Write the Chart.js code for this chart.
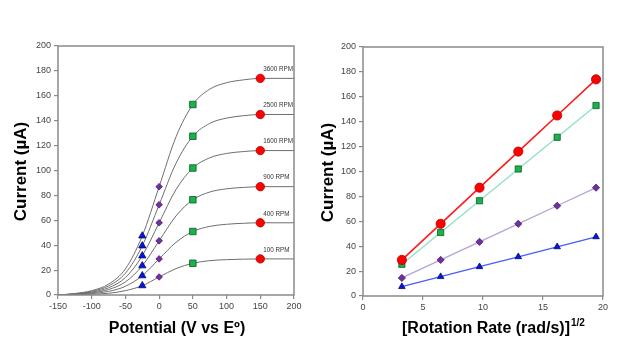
<!DOCTYPE html>
<html>
<head>
<meta charset="utf-8">
<script src="https://cdn.jsdelivr.net/npm/chart.js@4/dist/chart.umd.min.js"></script>
<style>
  html, body { margin: 0; padding: 0; background: #ffffff; }
  #wrap { position: relative; width: 640px; height: 360px; overflow: hidden; }
  canvas { position: absolute; top: 0; }
  #c1 { left: 0; }
  #c2 { left: 320px; }
</style>
</head>
<body>
<div id="wrap">
  <canvas id="c1" width="320" height="360"></canvas>
  <canvas id="c2" width="320" height="360"></canvas>
</div>
<script>
// ---------- data ----------
const rpmLabels = ["100 RPM", "400 RPM", "900 RPM", "1600 RPM", "2500 RPM", "3600 RPM"];
const potentialX = [-150, -125, -100, -75, -50, -25, 0, 25, 50, 75, 100, 125, 150, 175, 200];
const curve100  = [0, 0.2, 0.6, 1.4, 3.5, 7.5, 14.5, 21.2, 25.5, 27.6, 28.4, 28.8, 29, 29, 29];
const curve400  = [0, 0.4, 1.2, 2.9, 7.0, 15.5, 29, 42.3, 51, 55.1, 56.8, 57.6, 58, 58, 58];
const curve900  = [0, 0.6, 1.7, 4.4, 10.5, 23.5, 43.5, 63.5, 76.5, 82.7, 85.3, 86.4, 87, 87, 87];
const curve1600 = [0, 0.8, 2.3, 5.8, 14.0, 31.5, 58, 84.7, 102, 110.2, 113.7, 115.2, 116, 116, 116];
const curve2500 = [0, 1.0, 2.9, 7.3, 17.5, 39.5, 72.5, 105.8, 127.5, 137.8, 142.1, 144, 145, 145, 145];
const curve3600 = [0, 1.2, 3.5, 8.7, 21.0, 47.5, 87, 127, 153, 165.3, 170.5, 172.8, 174, 174, 174];
const curves = [curve100, curve400, curve900, curve1600, curve2500, curve3600];

// marker potentials on the left chart
const triPotential = -25, diaPotential = 0, sqPotential = 50, circPotential = 150;
// marker currents (per rotation rate, 100 -> 3600 RPM)
const triCurrent  = [7.5, 15.5, 23.5, 31.5, 39.5, 47.5];
const diaCurrent  = [14.5, 29, 43.5, 58, 72.5, 87];
const sqCurrent   = [25.5, 51, 76.5, 102, 127.5, 153];
const circCurrent = [29, 58, 87, 116, 145, 174];
// square root of rotation rate (rad/s)^1/2
const sqrtRate = [3.24, 6.47, 9.71, 12.94, 16.18, 19.42];

const leftTicksY = { min: 0, max: 200, step: 20 };
const leftTicksX = { min: -150, max: 200, step: 25, labelStep: 50 };
const rightTicksX = { min: 0, max: 20, step: 5 };

// ---------- helpers ----------
const FONT = '"Liberation Sans", Arial, sans-serif';
const GREY = '#8a8a8a';
function pts(xs, ys) { return ys.map((y, i) => ({ x: Array.isArray(xs) ? xs[i] : xs, y })); }

const boxPlugin = {
  id: 'box',
  afterDatasetsDraw(chart) {
    const a = chart.chartArea, ctx = chart.ctx;
    ctx.save();
    ctx.strokeStyle = GREY; ctx.lineWidth = 1.5;
    ctx.strokeRect(a.left, a.top, a.right - a.left, a.bottom - a.top);
    ctx.restore();
  }
};

function titlesPlugin(yTitleX, xTitle, sup) {
  return {
    id: 'titles',
    afterDraw(chart) {
      const a = chart.chartArea, ctx = chart.ctx;
      ctx.save();
      ctx.fillStyle = '#000';
      ctx.font = 'bold 17px ' + FONT;
      ctx.textAlign = 'center'; ctx.textBaseline = 'middle';
      ctx.translate(yTitleX, (a.top + a.bottom) / 2 + 1);
      ctx.rotate(-Math.PI / 2);
      ctx.fillText('Current (µA)', 0, 0);
      ctx.restore();
      ctx.save();
      ctx.fillStyle = '#000';
      ctx.font = 'bold 16px ' + FONT;
      ctx.textBaseline = 'middle';
      const cx = (a.left + a.right) / 2 + (sup ? 3 : 1);
      const w = ctx.measureText(xTitle).width;
      ctx.textAlign = 'left';
      ctx.fillText(xTitle, cx - w / 2, 329);
      if (sup) {
        ctx.font = 'bold 10px ' + FONT;
        ctx.fillText(sup, cx + w / 2 + 1, 323);
      }
      ctx.restore();
    }
  };
}

const rpmPlugin = {
  id: 'rpm',
  afterDatasetsDraw(chart) {
    const xs = chart.scales.x, ys = chart.scales.y, ctx = chart.ctx;
    ctx.save();
    ctx.fillStyle = '#333';
    ctx.font = '6.3px ' + FONT;
    ctx.textAlign = 'left'; ctx.textBaseline = 'middle';
    rpmLabels.forEach((t, i) => {
      ctx.fillText(t, xs.getPixelForValue(circPotential) + 3, ys.getPixelForValue(circCurrent[i]) - 9);
    });
    ctx.restore();
  }
};

function yAxis(width) {
  return {
    type: 'linear', min: leftTicksY.min, max: leftTicksY.max,
    afterFit: s => { s.width = width; },
    ticks: { stepSize: leftTicksY.step, color: '#444', font: { size: 9, family: FONT }, padding: 3 },
    grid: { drawOnChartArea: false, drawTicks: true, tickLength: 4, color: GREY, lineWidth: 1.2 },
    border: { display: false }
  };
}

// ---------- left chart ----------
const curveSets = curves.map(c => ({
  data: pts(potentialX, c), showLine: true, borderColor: '#6e6e6e', borderWidth: 1,
  pointRadius: 0, cubicInterpolationMode: 'monotone', fill: false, order: 2
}));
const markerStyle = {
  tri:  { pointStyle: 'triangle', pointRadius: 4.2, backgroundColor: '#0a14e0', borderColor: '#000a70', pointBorderWidth: 0.8 },
  dia:  { pointStyle: 'rectRot', pointRadius: 3.3, backgroundColor: '#7030a0', borderColor: '#4a1a70', pointBorderWidth: 0.8 },
  sq:   { pointStyle: 'rect', pointRadius: 4.6, backgroundColor: '#19b24b', borderColor: '#0b5a25', pointBorderWidth: 0.8 },
  circ: { pointStyle: 'circle', pointRadius: 4.2, backgroundColor: '#ff0000', borderColor: '#b00000', pointBorderWidth: 0.8 }
};
function markerSet(data, st, extra) {
  return Object.assign({ data, showLine: false, order: 1,
    pointBackgroundColor: st.backgroundColor, pointBorderColor: st.borderColor,
    pointStyle: st.pointStyle, pointRadius: st.pointRadius, pointBorderWidth: st.pointBorderWidth }, extra || {});
}

new Chart(document.getElementById('c1'), {
  type: 'scatter',
  data: { datasets: curveSets.concat([
    markerSet(pts(triPotential, triCurrent), markerStyle.tri),
    markerSet(pts(diaPotential, diaCurrent), markerStyle.dia),
    markerSet(pts(sqPotential, sqCurrent), markerStyle.sq),
    markerSet(pts(circPotential, circCurrent), markerStyle.circ)
  ]) },
  options: {
    responsive: false, animation: false, devicePixelRatio: 1,
    layout: { padding: { left: 0, top: 46, right: 26, bottom: 0 } },
    plugins: { legend: { display: false }, tooltip: { enabled: false } },
    scales: {
      x: {
        type: 'linear', min: leftTicksX.min, max: leftTicksX.max,
        afterFit: s => { s.height = 65; },
        ticks: { stepSize: leftTicksX.step, color: '#444', font: { size: 9, family: FONT }, padding: 2, maxRotation: 0,
          callback: v => (v % leftTicksX.labelStep === 0 ? String(v) : '') },
        grid: { drawOnChartArea: false, drawTicks: true, tickLength: 4, color: GREY, lineWidth: 1.2 },
        border: { display: false }
      },
      y: yAxis(58)
    }
  },
  plugins: [boxPlugin, rpmPlugin, titlesPlugin(21, 'Potential (V vs Eº)', null)]
});

// ---------- right chart ----------
new Chart(document.getElementById('c2'), {
  type: 'scatter',
  data: { datasets: [
    markerSet(pts(sqrtRate, triCurrent), Object.assign({}, markerStyle.tri, { pointRadius: 3.8 }), { showLine: true, borderColor: '#4a5cff', borderWidth: 1.3, order: 4 }),
    markerSet(pts(sqrtRate, diaCurrent), Object.assign({}, markerStyle.dia, { pointRadius: 3.6 }), { showLine: true, borderColor: '#b7a3d6', borderWidth: 1.3, order: 3 }),
    markerSet(pts(sqrtRate, sqCurrent), Object.assign({}, markerStyle.sq, { pointRadius: 4.4 }), { showLine: true, borderColor: '#8fe0c4', borderWidth: 1.3, order: 2 }),
    markerSet(pts(sqrtRate, circCurrent), Object.assign({}, markerStyle.circ, { pointRadius: 4.6 }), { showLine: true, borderColor: '#ff1a1a', borderWidth: 1.6, order: 1 })
  ] },
  options: {
    responsive: false, animation: false, devicePixelRatio: 1,
    layout: { padding: { left: 0, top: 47, right: 37, bottom: 0 } },
    plugins: { legend: { display: false }, tooltip: { enabled: false } },
    scales: {
      x: {
        type: 'linear', min: rightTicksX.min, max: rightTicksX.max,
        afterFit: s => { s.height = 64; },
        ticks: { stepSize: rightTicksX.step, color: '#444', font: { size: 9, family: FONT }, padding: 2, maxRotation: 0 },
        grid: { drawOnChartArea: false, drawTicks: true, tickLength: 4, color: GREY, lineWidth: 1.2 },
        border: { display: false }
      },
      y: yAxis(43)
    }
  },
  plugins: [boxPlugin, titlesPlugin(8, '[Rotation Rate (rad/s)]', '1/2')]
});
</script>
</body>
</html>
